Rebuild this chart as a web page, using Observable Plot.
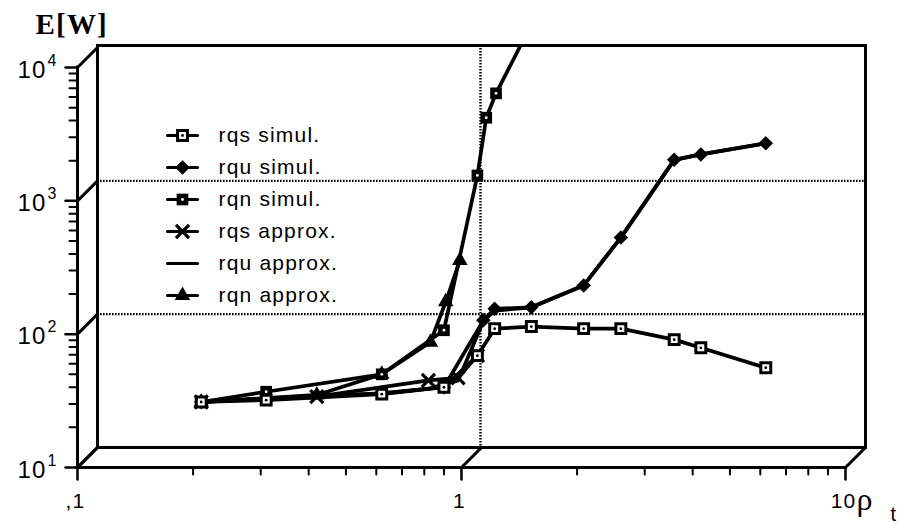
<!DOCTYPE html>
<html><head><meta charset="utf-8">
<script src="https://cdn.jsdelivr.net/npm/d3@7"></script>
<script src="https://cdn.jsdelivr.net/npm/@observablehq/plot@0.6"></script>
<style>
html,body{margin:0;padding:0;background:#fff;}
svg text{letter-spacing:1.2px;}
</style></head><body><div id="chart"></div>
<script>
// ---- axis ticks / labels ----
const xMajor = [0.1, 1, 10];
const xTickLabels = [",1", "1", "10"];
const xMinor = [0.2, 0.3, 0.4, 0.5, 0.6, 0.7, 0.8, 0.9, 2, 3, 4, 5, 6, 7, 8, 9];
const yMajor = [10, 100, 1000, 10000];
const yExponents = ["1", "2", "3", "4"];
const yMinor = [20, 30, 40, 50, 60, 70, 80, 90, 200, 300, 400, 500, 600, 700, 800, 900,
                2000, 3000, 4000, 5000, 6000, 7000, 8000, 9000];
const xGrid = [1];
const yGrid = [100, 1000];

// ---- series (rho_t, E[W]) ----
const rqsSimX = [0.21, 0.31, 0.62, 0.90, 1.10, 1.22, 1.52, 2.08, 2.6, 3.58, 4.2, 6.2];
const rqsSimY = [31, 32, 35.5, 40, 69, 110, 114, 110, 110, 91, 79, 56];
const rquSimX = [0.21, 0.31, 0.62, 0.90, 1.14, 1.22, 1.52, 2.08, 2.6, 3.58, 4.2, 6.2];
const rquSimY = [31, 33, 36, 40, 127, 155, 159, 232, 530, 2030, 2230, 2700];
const rqnSimX = [0.21, 0.31, 0.62, 0.90, 1.10, 1.16, 1.23, 1.5];
const rqnSimY = [31, 37, 50, 107, 1550, 4200, 6400, 19500];
const rqsApxX = [0.21, 0.42, 0.82, 0.98, 1.10];
const rqsApxY = [31, 34, 45, 47, 69];
const rquApxX = [0.21, 0.42, 0.62, 0.82, 0.98, 1.14, 1.22, 1.52, 2.08, 2.6, 3.58, 4.2, 6.2];
const rquApxY = [31, 34, 36, 39, 45, 125, 150, 159, 232, 530, 2030, 2230, 2700];
const rqnApxX = [0.21, 0.42, 0.62, 0.83, 0.91, 0.99];
const rqnApxY = [31, 35, 50, 87, 175, 357];

const legendNames = ["rqs simul.", "rqu simul.", "rqn simul.", "rqs approx.", "rqu approx.", "rqn approx."];
const legendKinds = ["sqOpen", "diamond", "sqFill", "times", "none", "triangle"];

const zip = (xs, ys) => xs.map((x, i) => ({x, y: ys[i]}));
const series = [
  {data: zip(rqsSimX, rqsSimY), kind: "sqOpen"},
  {data: zip(rquSimX, rquSimY), kind: "diamond"},
  {data: zip(rqnSimX, rqnSimY), kind: "sqFill"},
  {data: zip(rqsApxX, rqsApxY), kind: "times"},
  {data: zip(rquApxX, rquApxY), kind: "none"},
  {data: zip(rqnApxX, rqnApxY), kind: "triangle"}
];

const stick = {draw(ctx, l) { ctx.moveTo(0, 0); ctx.lineTo(0, -l); }};
const K = "black";

function markerMarks(data, kind, pos) {
  switch (kind) {
    case "sqOpen": return [
      Plot.dot(data, {...pos, symbol: "square", r: 5.6, fill: "white", stroke: K, strokeWidth: 3}),
      Plot.dot(data, {...pos, r: 1.4, fill: K})
    ];
    case "sqFill": return [
      Plot.dot(data, {...pos, symbol: "square", r: 6.6, fill: K}),
      Plot.dot(data, {...pos, r: 1.4, fill: "white"})
    ];
    case "diamond": return [Plot.dot(data, {...pos, symbol: "diamond2", r: 5.4, fill: K, stroke: K, strokeWidth: 1.8})];
    case "times": return [Plot.dot(data, {...pos, symbol: "times", r: 6, fill: "none", stroke: K, strokeWidth: 3.2})];
    case "triangle": return [Plot.dot(data, {...pos, symbol: "triangle", r: 5, fill: K, stroke: K, strokeWidth: 1.2})];
    default: return [];
  }
}

const dataPos = {x: "x", y: "y", clip: true};
const lineMarks = series.map(s => Plot.line(s.data, {x: "x", y: "y", stroke: K, strokeWidth: 3.7, clip: true}));
const dotMarks = [1, 4, 3, 5, 2, 0].flatMap(i => markerMarks(series[i].data, series[i].kind, dataPos));

const legendMarks = legendNames.flatMap((name, i) => {
  const pos = {frameAnchor: "top-left", dx: 85, dy: 90 + 32 * i};
  return [
    Plot.vector([0], {...pos, length: 30, rotate: 90, anchor: "middle", shape: stick, stroke: K, strokeWidth: 3.2}),
    ...markerMarks([0], legendKinds[i], pos),
    Plot.text([name], {frameAnchor: "top-left", dx: 121, dy: 90 + 32 * i, textAnchor: "start", lineAnchor: "middle", fontSize: 21, fill: K})
  ];
});

const chart = Plot.plot({
  width: 901, height: 524,
  marginLeft: 97, marginRight: 36, marginTop: 45, marginBottom: 77,
  x: {type: "log", domain: [0.1, 10], range: [77, 845], axis: null},
  y: {type: "log", domain: [10, 10000], range: [467, 67], axis: null},
  style: {fontFamily: "'Liberation Sans', Arial, Helvetica, sans-serif", background: "#fff", color: "#000", overflow: "visible"},
  marks: [
    // back-plane dotted grid
    Plot.ruleX(xGrid, {dx: 19, stroke: K, strokeWidth: 2.4, strokeDasharray: "1.6 1.4"}),
    Plot.ruleY(yGrid, {dy: -20, stroke: K, strokeWidth: 2.4, strokeDasharray: "1.6 1.4"}),
    // back plane
    Plot.frame({stroke: K, strokeWidth: 3}),
    // depth diagonals
    Plot.vector(yMajor, {x: 0.1, y: d => d, length: 28.3, rotate: 45, anchor: "start", shape: stick, stroke: K, strokeWidth: 3}),
    Plot.vector(xMajor, {x: d => d, y: 10, length: 28.3, rotate: 45, anchor: "start", shape: stick, stroke: K, strokeWidth: 3}),
    // front axes
    Plot.ruleX([0.1], {y1: 10, y2: 10000, stroke: K, strokeWidth: 3, strokeLinecap: "square"}),
    Plot.ruleY([10], {x1: 0.1, x2: 10, stroke: K, strokeWidth: 3, strokeLinecap: "square"}),
    Plot.vector(yMajor, {x: 0.1, y: d => d, length: 12, rotate: -90, anchor: "start", shape: stick, stroke: K, strokeWidth: 2.5}),
    Plot.vector(yMinor, {x: 0.1, y: d => d, length: 8, rotate: -90, anchor: "start", shape: stick, stroke: K, strokeWidth: 2}),
    Plot.vector(xMajor, {x: d => d, y: 10, length: 12, rotate: 180, anchor: "start", shape: stick, stroke: K, strokeWidth: 2.5}),
    Plot.vector(xMinor, {x: d => d, y: 10, length: 7, rotate: 180, anchor: "start", shape: stick, stroke: K, strokeWidth: 2}),
    // tick labels
    Plot.text(yMajor, {x: 0.1, y: d => d, text: () => "10", textAnchor: "end", lineAnchor: "bottom", dx: -31, dy: 10, fontSize: 24, fill: K}),
    Plot.text(yMajor, {x: 0.1, y: d => d, text: (d, i) => yExponents[i], textAnchor: "start", lineAnchor: "bottom", dx: -30, dy: -2, fontSize: 16, fill: K}),
    Plot.text(xMajor, {x: d => d, y: 10, text: (d, i) => xTickLabels[i], lineAnchor: "middle", dy: 34, dx: -2, fontSize: 21, fill: K}),
    Plot.text(["ρ"], {x: () => 10, y: () => 10, textAnchor: "start", lineAnchor: "middle", dx: 11, dy: 32, fontSize: 32, fill: K, fontFamily: "'Liberation Serif', 'Times New Roman', serif"}),
    Plot.text(["t"], {x: () => 10, y: () => 10, textAnchor: "start", lineAnchor: "middle", dx: 45, dy: 47, fontSize: 20, fill: K}),
    Plot.text(["E[W]"], {frameAnchor: "top-left", textAnchor: "start", lineAnchor: "bottom", dx: -62, dy: -12, fontSize: 29, fontWeight: "bold", fill: K, fontFamily: "'Liberation Serif', 'Times New Roman', serif"}),
    // data
    ...lineMarks,
    ...dotMarks,
    // legend
    ...legendMarks
  ]
});
document.getElementById("chart").appendChild(chart);
</script></body></html>
